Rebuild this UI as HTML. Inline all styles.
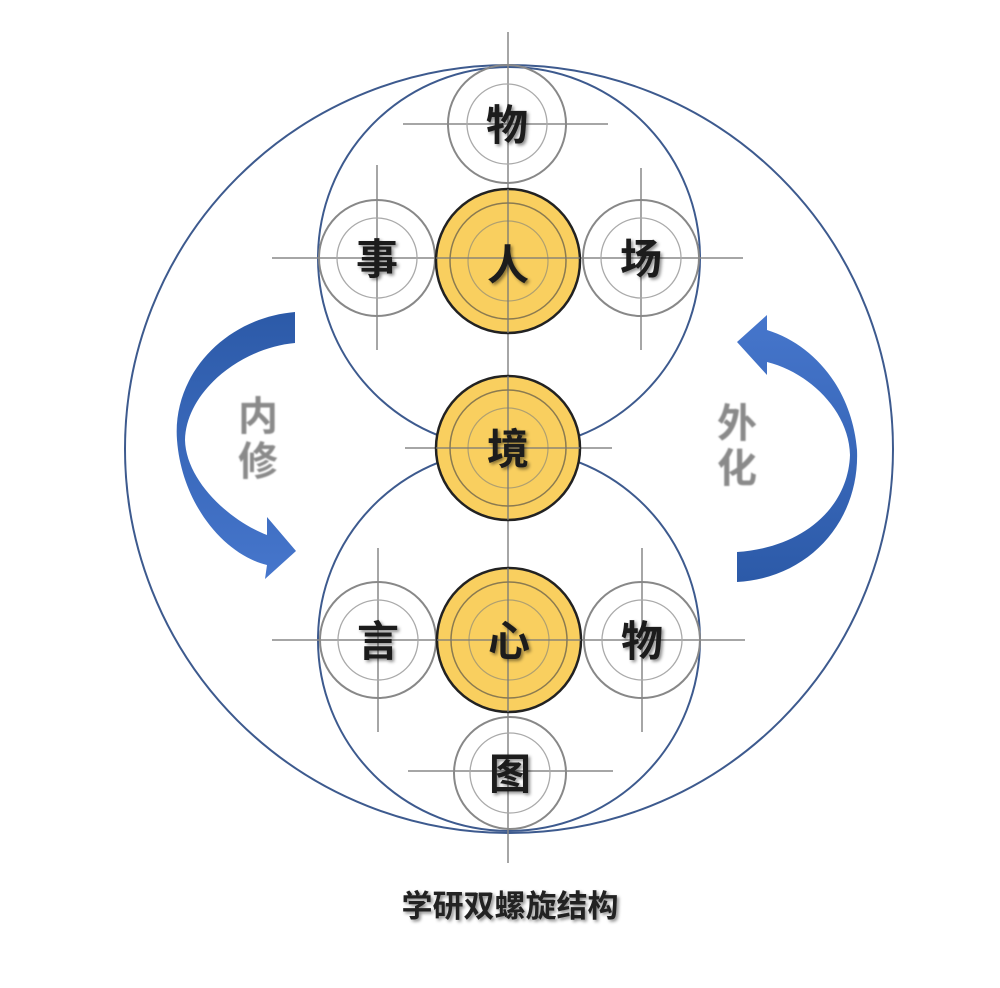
<!DOCTYPE html>
<html><head><meta charset="utf-8"><style>
html,body{margin:0;padding:0;background:#fff;}
svg{display:block;}
.c{font-family:"Liberation Sans","Noto Sans CJK SC",sans-serif;font-weight:bold;}
</style></head><body>
<svg width="1000" height="988" viewBox="0 0 1000 988" xmlns="http://www.w3.org/2000/svg">
<defs>
<linearGradient id="bl" x1="0" y1="0" x2="0" y2="1">
<stop offset="0" stop-color="#2c5aa8"/><stop offset="1" stop-color="#4676cc"/>
</linearGradient>
<linearGradient id="br" x1="0" y1="0" x2="0" y2="1">
<stop offset="0" stop-color="#4676cc"/><stop offset="1" stop-color="#2c5aa8"/>
</linearGradient>
<filter id="sh" x="-20%" y="-20%" width="150%" height="150%">
<feDropShadow dx="2" dy="2" stdDeviation="1.5" flood-color="#000" flood-opacity="0.45"/>
</filter>
<filter id="bl2"><feGaussianBlur stdDeviation="0.7"/></filter>
</defs>
<g fill="none" stroke="#3d5a8e" stroke-width="2">
<circle cx="509" cy="449" r="384"/>
<circle cx="509" cy="258" r="191"/>
<circle cx="509" cy="640" r="191"/>
</g>
<g stroke="#888" stroke-width="1.5">
<line x1="508" y1="32" x2="508" y2="863"/>
<line x1="403" y1="124" x2="608" y2="124"/>
<line x1="272" y1="258" x2="743" y2="258"/>
<line x1="377" y1="165" x2="377" y2="350"/>
<line x1="641" y1="168" x2="641" y2="350"/>
<line x1="405" y1="448" x2="612" y2="448"/>
<line x1="272" y1="640" x2="745" y2="640"/>
<line x1="378" y1="548" x2="378" y2="732"/>
<line x1="642" y1="548" x2="642" y2="732"/>
<line x1="408" y1="771" x2="613" y2="771"/>
</g>
<g fill="none">
<g stroke="#888" stroke-width="2">
<circle cx="507" cy="124" r="59"/><circle cx="377" cy="258" r="58"/><circle cx="641" cy="258" r="58"/>
<circle cx="378" cy="640" r="58"/><circle cx="642" cy="640" r="58"/><circle cx="510" cy="773" r="56"/>
</g>
<g stroke="#aaa" stroke-width="1.3">
<circle cx="507" cy="124" r="40"/><circle cx="377" cy="258" r="40"/><circle cx="641" cy="258" r="40"/>
<circle cx="378" cy="640" r="40"/><circle cx="642" cy="640" r="40"/><circle cx="510" cy="773" r="40"/>
</g>
</g>
<g>
<circle cx="508" cy="261" r="72" fill="#f9cf5f" stroke="#222" stroke-width="2.5"/>
<circle cx="508" cy="448" r="72" fill="#f9cf5f" stroke="#222" stroke-width="2.5"/>
<circle cx="509" cy="640" r="72" fill="#f9cf5f" stroke="#222" stroke-width="2.5"/>
<g fill="none" stroke="#8a7a50" stroke-width="1.5">
<circle cx="508" cy="261" r="58"/><circle cx="508" cy="448" r="58"/><circle cx="509" cy="640" r="58"/>
</g>
<g fill="none" stroke="#b0a070" stroke-width="1.2">
<circle cx="508" cy="261" r="40"/><circle cx="508" cy="448" r="40"/><circle cx="509" cy="640" r="40"/>
</g>
<g stroke="#777" stroke-width="1.3">
<line x1="508" y1="189" x2="508" y2="333"/><line x1="436" y1="258" x2="580" y2="258"/>
<line x1="508" y1="376" x2="508" y2="520"/><line x1="436" y1="448" x2="580" y2="448"/>
<line x1="508" y1="568" x2="508" y2="712"/><line x1="437" y1="640" x2="581" y2="640"/>
</g>
</g>
<path d="M295,312 C225,318 172,375 177,440 C182,505 225,555 267,565 L265,579 L296,551 L267,517 L267,535 C228,520 186,480 185,440 C186,392 240,348 295,343 Z" fill="url(#bl)"/>
<path d="M737,582 C810,578 860,520 857,450 C852,390 815,345 767,330 L767,315 L737,342 L767,375 L767,362 C808,372 849,410 850,455 C848,510 800,548 737,552 Z" fill="url(#br)"/>
<g class="c" font-size="42" fill="#1a1a1a" text-anchor="middle" filter="url(#sh)">
<text x="507" y="140">物</text>
<text x="377" y="274">事</text>
<text x="508" y="280">人</text>
<text x="641" y="274">场</text>
<text x="508" y="464">境</text>
<text x="378" y="656">言</text>
<text x="509" y="656">心</text>
<text x="642" y="656">物</text>
<text x="510" y="789">图</text>
</g>
<g class="c" font-size="40" fill="#8a8a8a" text-anchor="middle" filter="url(#bl2)">
<text x="258" y="430">内</text>
<text x="258" y="475">修</text>
<text x="737" y="437">外</text>
<text x="737" y="482">化</text>
</g>
<text class="c" x="510" y="917" font-size="31" fill="#222" text-anchor="middle" filter="url(#sh)">学研双螺旋结构</text>
</svg>
</body></html>
